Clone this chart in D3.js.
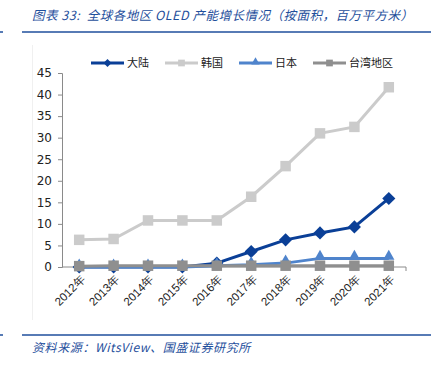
<!DOCTYPE html>
<html>
<head>
<meta charset="utf-8">
<script src="https://cdnjs.cloudflare.com/ajax/libs/d3/7.8.5/d3.min.js"></script>
<style>
body{margin:0;background:#fff;}
svg{display:block;font-family:"Noto Sans CJK SC","Liberation Sans",sans-serif;}
</style>
</head>
<body>
<svg id="mainSvg" width="436" height="365"></svg>
<script>
var years = ["2012年","2013年","2014年","2015年","2016年","2017年","2018年","2019年","2020年","2021年"];
var mainland = [0, 0, 0, 0, 0.9, 3.6, 6.3, 7.9, 9.3, 15.9];
var korea = [6.3, 6.5, 10.8, 10.8, 10.8, 16.3, 23.4, 31.0, 32.5, 41.7];
var japan = [0, 0, 0, 0, 0.3, 0.5, 0.9, 2.0, 2.0, 2.0];
var taiwan = [0.2, 0.3, 0.3, 0.3, 0.3, 0.3, 0.3, 0.3, 0.3, 0.3];
var yTicks = [0,5,10,15,20,25,30,35,40,45];
var seriesNames = ["大陆","韩国","日本","台湾地区"];

var series = [
    {name: seriesNames[0], values: mainland, color: "#0a3f97", shape: "diamond"},
    {name: seriesNames[1], values: korea, color: "#cbcbcb", shape: "square"},
    {name: seriesNames[2], values: japan, color: "#4f84cc", shape: "triangle"},
    {name: seriesNames[3], values: taiwan, color: "#8f8f8f", shape: "square"}
];

var svg = d3.select("#mainSvg");

// header / footer
svg.append("text")
    .attr("x", 32).attr("y", 20)
    .attr("fill", "#1f4f9c")
    .attr("font-size", "12.5px")
    .attr("font-style", "italic")
    .attr("letter-spacing", "0.5px")
    .attr("xml:space", "preserve")
    .text("图表 33:  全球各地区 OLED 产能增长情况（按面积，百万平方米）");

svg.append("line").attr("x1", 22).attr("x2", 431).attr("y1", 32).attr("y2", 32)
    .attr("stroke", "#1f4f9c").attr("stroke-width", 1.5);
svg.append("line").attr("x1", 0).attr("x2", 3).attr("y1", 32).attr("y2", 32)
    .attr("stroke", "#1f4f9c").attr("stroke-width", 1.5);
svg.append("line").attr("x1", 22).attr("x2", 431).attr("y1", 335).attr("y2", 335)
    .attr("stroke", "#1f4f9c").attr("stroke-width", 1.5);
svg.append("line").attr("x1", 0).attr("x2", 3).attr("y1", 335).attr("y2", 335)
    .attr("stroke", "#1f4f9c").attr("stroke-width", 1.5);

svg.append("text")
    .attr("x", 32).attr("y", 352)
    .attr("fill", "#1f4f9c")
    .attr("font-size", "12px")
    .attr("font-style", "italic")
    .attr("letter-spacing", "0.6px")
    .text("资料来源：WitsView、国盛证券研究所");

// faint chart frame
svg.append("line").attr("x1", 32.5).attr("x2", 32.5).attr("y1", 45).attr("y2", 320)
    .attr("stroke", "#f0f0f0").attr("stroke-width", 1);

var x = d3.scaleBand().domain(years).range([62, 406]);
var y = d3.scaleLinear().domain([0, 45]).range([267, 73]);

var g = svg.append("g");

// y axis
var yAxis = g.append("g")
    .attr("transform", "translate(62,0)")
    .call(d3.axisLeft(y).tickValues(yTicks).tickSize(4).tickPadding(6));
yAxis.select(".domain").attr("stroke", "#8a8a8a");
yAxis.selectAll(".tick line").attr("stroke", "#8a8a8a");
yAxis.selectAll(".tick text")
    .attr("font-size", "12px")
    .attr("fill", "#222")
    .attr("font-family", "'DejaVu Sans','Liberation Sans',sans-serif");

// x axis
var xAxis = g.append("g")
    .attr("transform", "translate(0,267)")
    .call(d3.axisBottom(x).tickSize(0));
xAxis.select(".domain").attr("stroke", "#8a8a8a").attr("d", "M62,0H406V4");
xAxis.selectAll(".tick text")
    .attr("font-size", "11.5px")
    .attr("fill", "#222")
    .attr("text-anchor", "end")
    .attr("x", 0)
    .attr("y", 0)
    .attr("dy", "0.35em")
    .attr("transform", "translate(4,10) rotate(-45)");

var line = d3.line()
    .x(function(d, i){ return x(years[i]) + x.bandwidth() / 2; })
    .y(function(d){ return y(d); });

function symbolFor(shape){
    if(shape == "diamond") return d3.symbol().type(d3.symbolDiamond2).size(110);
    if(shape == "triangle") return d3.symbol().type(d3.symbolTriangle).size(55);
    return d3.symbol().type(d3.symbolSquare).size(110);
}

var drawOrder = [1, 0, 2, 3];
drawOrder.forEach(function(k){
    var s = series[k];
    var sg = g.append("g").attr("class", "series");
    sg.append("path")
        .datum(s.values)
        .attr("d", line)
        .attr("fill", "none")
        .attr("stroke", s.color)
        .attr("stroke-width", 3);
    sg.selectAll(".pt")
        .data(s.values)
        .enter()
        .append("path")
        .attr("transform", function(d, i){
            var dy = s.shape == "triangle" ? -2 : 0;
            return "translate(" + (x(years[i]) + x.bandwidth() / 2) + "," + (y(d) + dy) + ")";
        })
        .attr("d", symbolFor(s.shape))
        .attr("fill", s.color);
});

// legend
var legendX = [91, 165, 239, 313];
var legend = svg.append("g").attr("transform", "translate(0,63)");
series.forEach(function(s, i){
    var lg = legend.append("g").attr("transform", "translate(" + legendX[i] + ",0)");
    lg.append("line").attr("x1", 0).attr("x2", 33).attr("y1", 0).attr("y2", 0)
        .attr("stroke", s.color).attr("stroke-width", 3);
    lg.append("path")
        .attr("transform", "translate(16.5," + (s.shape == "triangle" ? -1 : 0) + ")")
        .attr("d", s.shape == "diamond" ? d3.symbol().type(d3.symbolDiamond2).size(40)()
              : s.shape == "triangle" ? d3.symbol().type(d3.symbolTriangle).size(30)()
              : d3.symbol().type(d3.symbolSquare).size(45)())
        .attr("fill", s.color);
    lg.append("text")
        .attr("x", 36).attr("y", 4)
        .attr("font-size", "11px")
        .attr("fill", "#222")
        .text(s.name);
});
</script>
</body>
</html>
